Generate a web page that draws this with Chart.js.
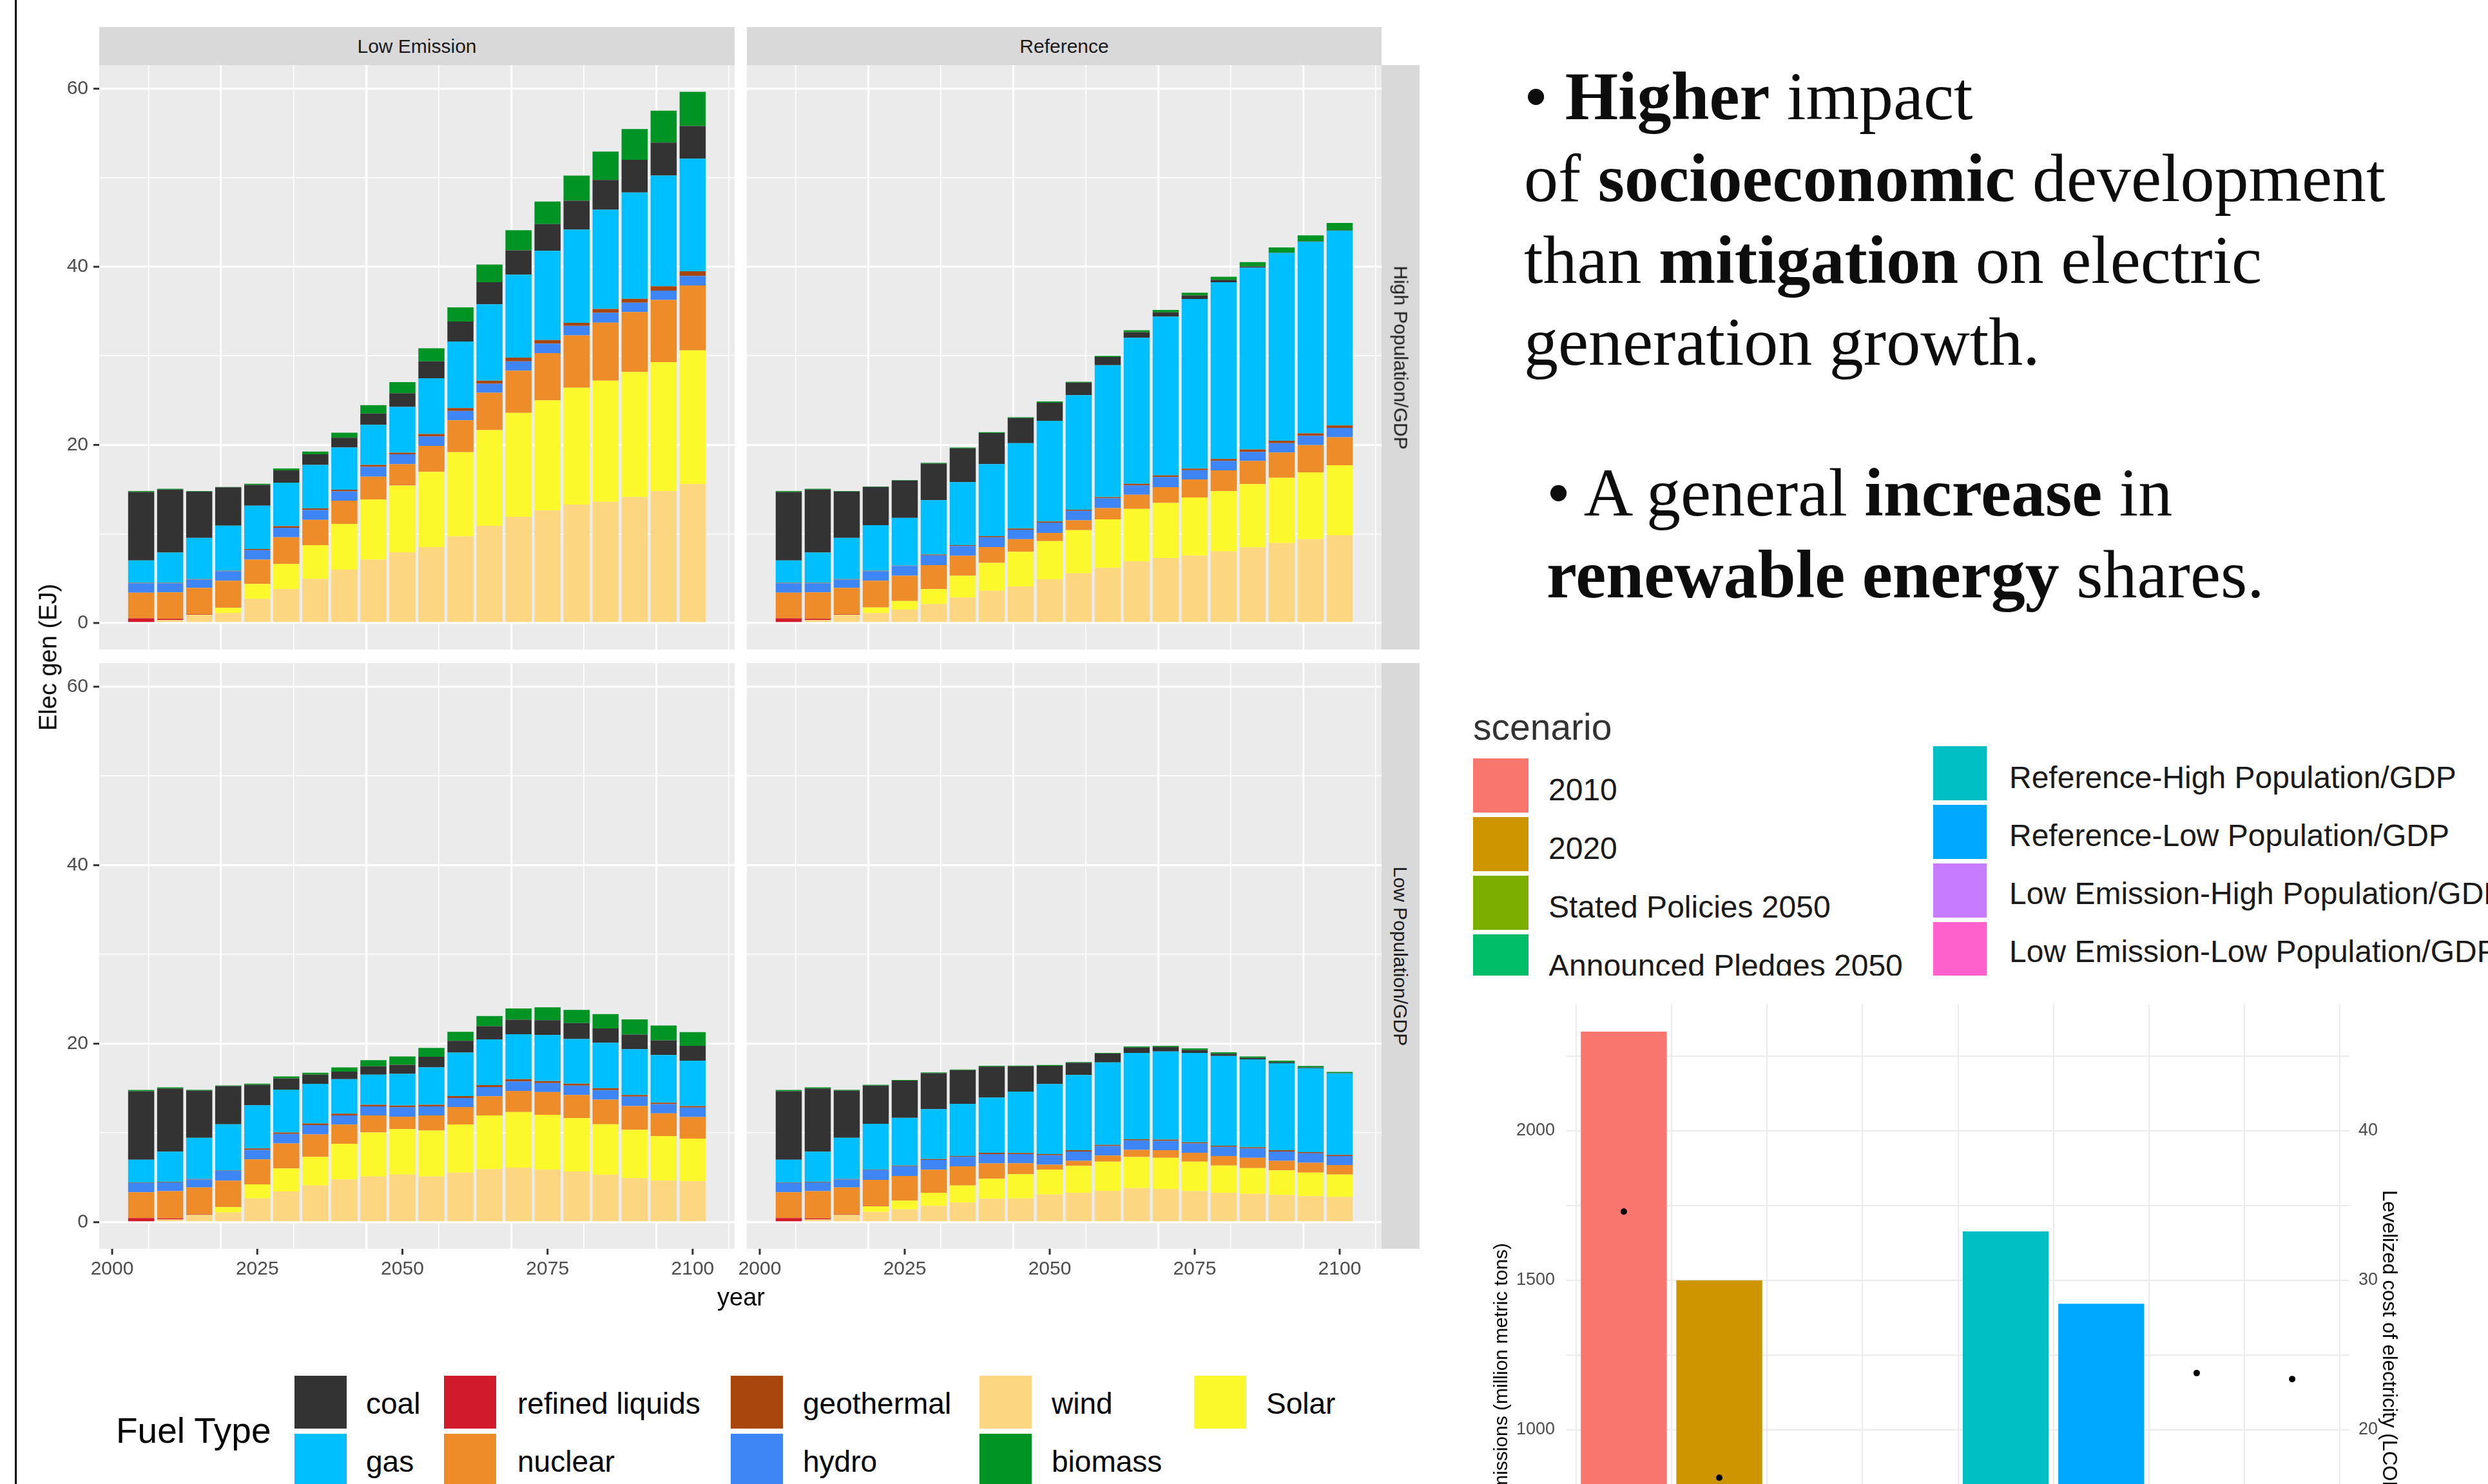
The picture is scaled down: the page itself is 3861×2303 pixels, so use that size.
<!DOCTYPE html>
<html>
<head>
<meta charset="utf-8">
<script src="https://cdn.jsdelivr.net/npm/chart.js@4.4.1/dist/chart.umd.min.js"></script>
<style>
html,body{margin:0;padding:0;background:#fff;overflow:hidden;}
#root{position:relative;width:3861px;height:2303px;overflow:hidden;background:#fff;font-family:"Liberation Sans",Arial,sans-serif;}
canvas{position:absolute;}
.strip{position:absolute;background:#D9D9D9;color:#1A1A1A;font-size:30px;display:flex;align-items:center;justify-content:center;white-space:nowrap;}
.rot90{transform:rotate(90deg);white-space:nowrap;}
.lbl{position:absolute;white-space:nowrap;}
.key{position:absolute;}
.txt{position:absolute;font-family:"Liberation Serif","Times New Roman",serif;font-size:106px;line-height:127px;color:#0d0d0d;white-space:nowrap;}
.txt b{font-weight:bold;}
</style>
</head>
<body>
<div id="root">
  <div style="position:absolute;left:23px;top:0;width:3px;height:2303px;background:#000;"></div>

  <canvas id="cTL"></canvas>
  <canvas id="cTR"></canvas>
  <canvas id="cBL"></canvas>
  <canvas id="cBR"></canvas>

  <div class="strip" style="left:154px;top:42px;width:986px;height:59px;">Low Emission</div>
  <div class="strip" style="left:1159px;top:42px;width:985px;height:59px;">Reference</div>
  <div class="strip" style="left:2144px;top:101px;width:59px;height:907px;"><span class="rot90">High Population/GDP</span></div>
  <div class="strip" style="left:2144px;top:1029px;width:59px;height:909px;"><span class="rot90">Low Population/GDP</span></div>

  <div class="lbl" style="left:75px;top:1020px;font-size:38px;color:#000;transform:translate(-50%,-50%) rotate(-90deg);">Elec gen (EJ)</div>
  <div class="lbl" style="left:1150px;top:2013px;font-size:38px;color:#000;transform:translate(-50%,-50%);">year</div>

  <div id="fuelLegend"></div>

  <div class="txt" style="left:2365px;top:86px;">• <b>Higher</b> impact<br>of <b>socioeconomic</b> development<br>than <b>mitigation</b> on electric<br>generation growth.</div>
  <div class="txt" style="left:2400px;top:701px;">• A general <b>increase</b> in<br><b>renewable energy</b> shares.</div>

  <div id="scenLegend" style="position:absolute;left:2260px;top:1040px;width:1601px;height:474px;overflow:hidden;"></div>

  <canvas id="cEm"></canvas>
  <div class="lbl" style="left:2314px;top:1929px;font-size:30px;line-height:30px;color:#000;writing-mode:vertical-rl;transform:rotate(180deg);">Emissions (million metric tons)</div>
  <div class="lbl" style="left:3693px;top:1847px;font-size:31px;line-height:31px;color:#000;writing-mode:vertical-rl;">Levelized cost of electricity (LCOE)</div>
</div>

<script>
// ---------------- DATA ----------------
const years = [2005,2010,2015,2020,2025,2030,2035,2040,2045,2050,2055,2060,2065,2070,2075,2080,2085,2090,2095,2100];
const xTickLabels = [2000,2025,2050,2075,2100];
const yTickLabels = [0,20,40,60];
const fuelStackOrder = ['wind','Solar','refined liquids','nuclear','hydro','geothermal','gas','coal','biomass'];

// Low Emission - High Population/GDP
const leHiWind    = [0,0.35,0.88,1.1,2.7,3.8,4.95,6.0,7.11,7.95,8.53,9.72,10.91,11.93,12.64,13.3,13.61,14.14,14.8,15.6];
const leHiSolar   = [0,0,0.05,0.62,1.68,2.83,3.8,5.13,6.76,7.51,8.44,9.46,10.74,11.67,12.37,13.12,13.61,14.05,14.49,15.02];
const leHiRefined = [0.53,0.13,0.05,0.03,0,0,0,0,0,0.05,0,0,0,0,0,0,0,0,0,0];
const leHiNuclear = [2.87,2.96,2.96,3.0,2.74,3.0,2.83,2.6,2.56,2.34,2.92,3.58,4.2,4.73,5.3,5.88,6.5,6.72,6.98,7.29];
const leHiHydro   = [1.06,1.02,0.93,1.06,1.06,1.06,1.1,1.06,1.1,1.1,1.06,1.06,1.02,1.06,1.06,1.06,1.1,1.06,1.06,1.06];
const leHiGeo     = [0.05,0.05,0.05,0.05,0.13,0.18,0.18,0.18,0.22,0.18,0.27,0.31,0.35,0.4,0.4,0.35,0.44,0.44,0.49,0.53];
const leHiGas     = [2.52,3.4,4.64,5.08,4.86,4.9,4.9,4.73,4.5,5.13,6.27,7.47,8.57,9.32,10.03,10.47,11.14,11.93,12.42,12.64];
const leHiCoal    = [7.69,7.07,5.21,4.29,2.34,1.37,1.19,1.1,1.28,1.55,1.9,2.25,2.47,2.74,3.0,3.23,3.36,3.67,3.71,3.67];
const leHiBiomass = [0.1,0.1,0.05,0.05,0.13,0.22,0.31,0.57,0.93,1.24,1.46,1.59,1.99,2.25,2.52,2.83,3.18,3.45,3.58,3.84];

// Reference - High Population/GDP
const refHiWind    = [0,0.35,0.88,1.1,1.5,2.12,2.87,3.62,4.11,4.9,5.57,6.19,6.89,7.29,7.56,8.04,8.48,8.97,9.41,9.85];
const refHiSolar   = [0,0,0.05,0.66,0.97,1.68,2.43,3.14,3.89,4.29,4.86,5.44,5.92,6.19,6.54,6.76,7.11,7.34,7.51,7.87];
const refHiRefined = [0.53,0.13,0.05,0.03,0,0,0,0,0,0,0,0,0,0,0,0,0,0,0,0];
const refHiNuclear = [2.87,2.96,2.96,2.96,2.83,2.7,2.25,1.77,1.41,0.93,1.1,1.28,1.59,1.77,2.03,2.34,2.61,2.83,3.05,3.14];
const refHiHydro   = [1.06,1.02,0.93,1.06,1.1,1.1,1.1,1.1,1.06,1.15,1.06,1.1,1.06,1.15,1.02,1.06,1.02,1.06,1.06,1.06];
const refHiGeo     = [0.05,0.05,0.05,0.05,0.05,0.09,0.09,0.13,0.13,0.13,0.13,0.13,0.18,0.18,0.18,0.22,0.27,0.27,0.27,0.27];
const refHiGas     = [2.52,3.4,4.64,5.13,5.35,6.1,7.07,8.09,9.59,11.31,12.86,14.8,16.39,17.81,19.05,19.84,20.41,21.08,21.52,21.87];
const refHiCoal    = [7.69,7.07,5.21,4.29,4.2,4.11,3.8,3.49,2.83,2.03,1.41,0.93,0.62,0.49,0.4,0.27,0.13,0.05,0.04,0.03];
const refHiBiomass = [0.1,0.1,0.05,0.05,0.05,0.09,0.09,0.09,0.09,0.13,0.09,0.13,0.22,0.27,0.31,0.35,0.49,0.57,0.66,0.84];

// Low Emission - Low Population/GDP
const leLoWind    = [0,0.3,0.76,1.1,2.67,3.44,4.11,4.79,5.13,5.34,5.13,5.56,5.94,6.11,5.89,5.68,5.3,4.96,4.66,4.58];
const leLoSolar   = [0,0,0.05,0.59,1.57,2.59,3.22,3.99,4.92,5.09,5.13,5.39,6.02,6.23,6.15,5.98,5.68,5.39,5.0,4.79];
const leLoRefined = [0.47,0.13,0.08,0.03,0,0,0,0,0,0,0,0,0,0,0,0,0,0,0,0];
const leLoNuclear = [2.88,3.05,3.0,2.93,2.8,2.8,2.5,2.16,1.91,1.4,1.7,1.95,2.16,2.37,2.54,2.59,2.76,2.67,2.54,2.42];
const leLoHydro   = [1.06,0.98,0.89,1.1,1.06,1.06,1.06,1.02,1.02,1.06,1.02,1.02,1.02,1.06,1.02,1.06,1.06,1.06,1.02,1.06];
const leLoGeo     = [0.05,0.05,0.05,0.05,0.17,0.17,0.17,0.21,0.17,0.17,0.17,0.21,0.21,0.25,0.21,0.21,0.21,0.17,0.17,0.17];
const leLoGas     = [2.54,3.39,4.62,5.17,4.83,4.79,4.45,3.86,3.39,3.56,4.2,4.88,5.13,5.05,5.17,5.0,5.09,5.13,5.34,5.09];
const leLoCoal    = [7.68,7.08,5.3,4.28,2.29,1.27,1.02,0.85,0.93,1.02,1.19,1.31,1.48,1.61,1.65,1.78,1.61,1.65,1.65,1.65];
const leLoBiomass = [0.13,0.13,0.08,0.08,0.13,0.21,0.21,0.47,0.68,0.93,0.98,1.02,1.15,1.27,1.44,1.48,1.61,1.7,1.65,1.53];

// Reference - Low Population/GDP
const refLoWind    = [0,0.3,0.76,1.15,1.44,1.82,2.2,2.63,2.67,3.1,3.31,3.52,3.82,3.73,3.48,3.31,3.18,3.05,2.93,2.84];
const refLoSolar   = [0,0,0.05,0.64,0.98,1.48,1.91,2.25,2.71,2.8,3.01,3.27,3.48,3.48,3.31,3.05,2.88,2.76,2.63,2.5];
const refLoRefined = [0.47,0.13,0.08,0.03,0,0,0,0,0,0,0,0,0,0,0,0,0,0,0,0];
const refLoNuclear = [2.88,3.05,3.0,2.93,2.76,2.59,2.16,1.7,1.23,0.55,0.55,0.68,0.81,0.85,0.98,1.06,1.15,1.06,1.1,1.06];
const refLoHydro   = [1.06,0.98,0.89,1.1,1.1,1.1,1.06,1.06,1.02,1.06,1.06,1.06,1.06,1.06,1.06,1.02,1.06,1.06,1.06,1.02];
const refLoGeo     = [0.05,0.05,0.05,0.05,0.08,0.08,0.08,0.13,0.13,0.13,0.13,0.13,0.13,0.13,0.13,0.13,0.13,0.13,0.13,0.13];
const refLoGas     = [2.54,3.39,4.62,5.13,5.34,5.6,5.85,6.19,6.87,7.85,8.44,9.25,9.67,9.88,10.0,10.05,9.84,9.75,9.41,9.12];
const refLoCoal    = [7.68,7.08,5.3,4.28,4.16,4.03,3.77,3.48,2.84,2.04,1.36,0.98,0.59,0.51,0.34,0.25,0.17,0.13,0.08,0.04];
const refLoBiomass = [0.13,0.13,0.08,0.08,0.08,0.08,0.08,0.08,0.08,0.08,0.08,0.08,0.13,0.13,0.17,0.17,0.17,0.17,0.17,0.13];

// Fuel legend (display order)
const legendFuels = ['coal','gas','refined liquids','nuclear','geothermal','hydro','wind','biomass','Solar'];

// Scenario chart
const scenarios = ['2010','2020','Stated Policies 2050','Announced Pledges 2050','Reference-High Population/GDP','Reference-Low Population/GDP','Low Emission-High Population/GDP','Low Emission-Low Population/GDP'];
const emissions = [2332,1500,null,null,1664,1422,null,null];
const lcoe      = [34.6,16.8,null,null,null,null,23.8,23.4];
const emTickLabels = [0,500,1000,1500,2000];
const lcoeTickLabels = [0,10,20,30,40];

// ---------------- STYLES ----------------
const FONT = '"Liberation Sans", Arial, sans-serif';
const FUEL_COLORS = {
  'coal':'#333333','gas':'#00BFFF','refined liquids':'#D11A2A','nuclear':'#EE8C2A',
  'geothermal':'#A9460E','hydro':'#3E86F5','wind':'#FCD680','biomass':'#009425','Solar':'#FBF92B'
};
const SCEN_COLORS = ['#F8766D','#CD9600','#7CAE00','#00BE67','#00BFC4','#00A9FF','#C77CFF','#FF61CC'];

const X_MIN = 1997.775, X_MAX = 2107.225;
const Y_MIN = -2.98, Y_MAX = 62.65;
const xGridVals = [];
for (let i = 0; i < xTickLabels.length; i++) {
  xGridVals.push(xTickLabels[i]);
  if (i < xTickLabels.length - 1) xGridVals.push((xTickLabels[i] + xTickLabels[i+1]) / 2);
}
const yGridVals = [];
for (let i = 0; i < yTickLabels.length; i++) {
  yGridVals.push(yTickLabels[i]);
  if (i < yTickLabels.length - 1) yGridVals.push((yTickLabels[i] + yTickLabels[i+1]) / 2);
}

const panelBg = {
  id: 'panelBg',
  beforeDraw(chart) {
    const {ctx, chartArea: a} = chart;
    ctx.save();
    ctx.fillStyle = '#EBEBEB';
    ctx.fillRect(a.left, a.top, a.right - a.left, a.bottom - a.top);
    ctx.restore();
  }
};

// draws ggplot-style tick marks at the labelled (major) ticks only
const majorTicks = {
  id: 'majorTicks',
  afterDraw(chart, args, opts) {
    const {ctx, chartArea: a, scales} = chart;
    ctx.save();
    ctx.strokeStyle = '#333333';
    ctx.lineWidth = 3;
    if (opts.x) {
      xTickLabels.forEach(v => {
        const px = scales.x.getPixelForValue(v);
        ctx.beginPath(); ctx.moveTo(px, a.bottom); ctx.lineTo(px, a.bottom + 9); ctx.stroke();
      });
    }
    if (opts.y) {
      yTickLabels.forEach(v => {
        const py = scales.y.getPixelForValue(v);
        ctx.beginPath(); ctx.moveTo(a.left - 9, py); ctx.lineTo(a.left, py); ctx.stroke();
      });
    }
    ctx.restore();
  }
};

function setupCanvas(id, x, y, w, h) {
  const cv = document.getElementById(id);
  cv.width = w; cv.height = h;
  cv.style.left = x + 'px'; cv.style.top = y + 'px';
  cv.style.width = w + 'px'; cv.style.height = h + 'px';
  return cv;
}

function facet(id, rect, series, opt) {
  const cv = setupCanvas(id, rect.x, rect.y, rect.w, rect.h);
  const datasets = fuelStackOrder.map((f, i) => ({
    label: f,
    data: years.map((yr, j) => ({x: yr, y: series[i][j]})),
    backgroundColor: FUEL_COLORS[f],
    borderWidth: 0,
    barPercentage: 0.9,
    categoryPercentage: 1.0
  }));
  const isMajX = v => xTickLabels.includes(v);
  const isMajY = v => yTickLabels.includes(v);
  new Chart(cv, {
    type: 'bar',
    data: {datasets},
    options: {
      responsive: false, animation: false, devicePixelRatio: 1,
      layout: {padding: 0, autoPadding: false},
      plugins: {legend: {display: false}, tooltip: {enabled: false},
                majorTicks: {x: opt.showX, y: opt.showY}},
      scales: {
        x: {
          type: 'linear', stacked: true, min: X_MIN, max: X_MAX, offset: false,
          afterBuildTicks: s => { s.ticks = xGridVals.map(v => ({value: v})); },
          afterFit: s => { s.height = opt.xH; s.paddingLeft = 0; s.paddingRight = 0; },
          ticks: {display: opt.showX, autoSkip: false, maxRotation: 0, minRotation: 0, padding: 14,
                  color: '#4D4D4D', font: {family: FONT, size: 30},
                  callback: v => isMajX(v) ? String(v) : ''},
          grid: {color: '#FFFFFF',
                 lineWidth: c => (c.tick && isMajX(c.tick.value)) ? 3.2 : 1.6,
                 drawTicks: false},
          border: {display: false}
        },
        y: {
          type: 'linear', stacked: true, min: Y_MIN, max: Y_MAX, position: 'left',
          afterBuildTicks: s => { s.ticks = yGridVals.map(v => ({value: v})); },
          afterFit: s => { s.width = opt.yW; s.paddingTop = 0; s.paddingBottom = 0; },
          ticks: {display: opt.showY, padding: 17, color: '#4D4D4D', font: {family: FONT, size: 30},
                  callback: v => isMajY(v) ? String(v) : ''},
          grid: {color: '#FFFFFF',
                 lineWidth: c => (c.tick && isMajY(c.tick.value)) ? 3.2 : 1.6,
                 drawTicks: false},
          border: {display: false}
        }
      }
    },
    plugins: [panelBg, majorTicks]
  });
}

facet('cTL', {x: 40, y: 101, w: 1100, h: 907},
  [leHiWind, leHiSolar, leHiRefined, leHiNuclear, leHiHydro, leHiGeo, leHiGas, leHiCoal, leHiBiomass],
  {showX: false, showY: true, xH: 0, yW: 114});
facet('cTR', {x: 1109, y: 101, w: 1035, h: 907},
  [refHiWind, refHiSolar, refHiRefined, refHiNuclear, refHiHydro, refHiGeo, refHiGas, refHiCoal, refHiBiomass],
  {showX: false, showY: false, xH: 0, yW: 50});
facet('cBL', {x: 40, y: 1029, w: 1100, h: 969},
  [leLoWind, leLoSolar, leLoRefined, leLoNuclear, leLoHydro, leLoGeo, leLoGas, leLoCoal, leLoBiomass],
  {showX: true, showY: true, xH: 60, yW: 114});
facet('cBR', {x: 1109, y: 1029, w: 1035, h: 969},
  [refLoWind, refLoSolar, refLoRefined, refLoNuclear, refLoHydro, refLoGeo, refLoGas, refLoCoal, refLoBiomass],
  {showX: true, showY: false, xH: 60, yW: 50});

// ---------------- FUEL LEGEND ----------------
(function () {
  const root = document.getElementById('fuelLegend');
  const colX = [457, 689, 1134, 1520, 1853];
  const labX = [568, 803, 1246, 1632, 1965];
  const rowTop = [2135, 2225];
  const rowMid = [2178, 2268];
  let html = '<div class="lbl" style="left:180px;top:' + (2220 - 33) + 'px;font-size:55px;line-height:66px;color:#000;">Fuel Type</div>';
  legendFuels.forEach((f, i) => {
    const c = Math.floor(i / 2), r = i % 2;
    html += '<div class="key" style="left:' + colX[c] + 'px;top:' + rowTop[r] + 'px;width:81px;height:82px;background:' + FUEL_COLORS[f] + ';"></div>';
    html += '<div class="lbl" style="left:' + labX[c] + 'px;top:' + (rowMid[r] - 28) + 'px;font-size:46px;line-height:56px;color:#000;">' + f + '</div>';
  });
  root.innerHTML = html;
})();

// ---------------- SCENARIO LEGEND ----------------
(function () {
  const root = document.getElementById('scenLegend');
  const ox = 2260, oy = 1040;
  let html = '<div class="lbl" style="left:' + (2286 - ox) + 'px;top:' + (1128 - 35 - oy) + 'px;font-size:57px;line-height:70px;color:#333;">scenario</div>';
  const c1Top = [1177, 1268, 1359, 1450], c1Mid = [1226, 1317, 1408, 1499];
  const c2Top = [1158, 1249, 1340, 1431], c2Mid = [1207, 1297, 1387, 1477];
  scenarios.forEach((s, i) => {
    const col = i < 4 ? 0 : 1, r = i % 4;
    const kx = col === 0 ? 2286 : 3000, kw = col === 0 ? 86 : 83;
    const lx = col === 0 ? 2403 : 3118;
    const kt = col === 0 ? c1Top[r] : c2Top[r];
    const lm = col === 0 ? c1Mid[r] : c2Mid[r];
    html += '<div class="key" style="left:' + (kx - ox) + 'px;top:' + (kt - oy) + 'px;width:' + kw + 'px;height:84px;background:' + SCEN_COLORS[i] + ';"></div>';
    html += '<div class="lbl" style="left:' + (lx - ox) + 'px;top:' + (lm - 29 - oy) + 'px;font-size:48px;line-height:58px;color:#1a1a1a;">' + s + '</div>';
  });
  root.innerHTML = html;
})();

// ---------------- EMISSIONS / LCOE CHART ----------------
(function () {
  const cv = setupCanvas('cEm', 2300, 1520, 1561, 1280);
  const EM_MAX = 2422.4, EM_MIN = -165.9, RATIO = 50;
  const emGrid = [];
  for (let v = 0; v <= 2250; v += 250) emGrid.push(v);
  const lcGrid = [];
  for (let v = 0; v <= 45; v += 5) lcGrid.push(v);
  new Chart(cv, {
    data: {
      datasets: [
        {type: 'line', data: lcoe.map((v, i) => ({x: i + 1, y: v})), yAxisID: 'y2',
         showLine: false, pointRadius: 5, pointBackgroundColor: '#000', pointBorderColor: '#000', pointBorderWidth: 0, order: 1},
        {type: 'bar', data: emissions.map((v, i) => ({x: i + 1, y: v})), yAxisID: 'y',
         backgroundColor: SCEN_COLORS, borderWidth: 0, barPercentage: 0.9, categoryPercentage: 1.0, order: 2}
      ]
    },
    options: {
      responsive: false, animation: false, devicePixelRatio: 1,
      layout: {padding: {top: 39, left: 0, right: 0, bottom: 0}, autoPadding: false},
      plugins: {legend: {display: false}, tooltip: {enabled: false}},
      scales: {
        x: {
          type: 'linear', min: 0.4, max: 8.6, offset: false,
          afterBuildTicks: s => { s.ticks = scenarios.map((_, i) => ({value: i + 1})); },
          afterFit: s => { s.height = 40; s.paddingLeft = 0; s.paddingRight = 0; },
          ticks: {display: false, callback: v => scenarios[v - 1] || ''},
          grid: {color: '#EBEBEB', lineWidth: 2, drawTicks: false},
          border: {display: false}
        },
        y: {
          type: 'linear', position: 'left', min: EM_MIN, max: EM_MAX,
          afterBuildTicks: s => { s.ticks = emGrid.map(v => ({value: v})); },
          afterFit: s => { s.width = 131; s.paddingTop = 0; s.paddingBottom = 0; },
          ticks: {padding: 18, color: '#4D4D4D', font: {family: FONT, size: 27},
                  callback: v => emTickLabels.includes(v) ? String(v) : ''},
          grid: {color: '#EBEBEB', lineWidth: 2, drawTicks: false},
          border: {display: false}
        },
        y2: {
          type: 'linear', position: 'right', min: EM_MIN / RATIO, max: EM_MAX / RATIO,
          afterBuildTicks: s => { s.ticks = lcGrid.map(v => ({value: v})); },
          afterFit: s => { s.width = 215; s.paddingTop = 0; s.paddingBottom = 0; },
          ticks: {padding: 14, color: '#4D4D4D', font: {family: FONT, size: 27},
                  callback: v => lcoeTickLabels.includes(v) ? String(v) : ''},
          grid: {drawOnChartArea: false, drawTicks: false},
          border: {display: false}
        }
      }
    }
  });
})();
</script>
</body>
</html>
